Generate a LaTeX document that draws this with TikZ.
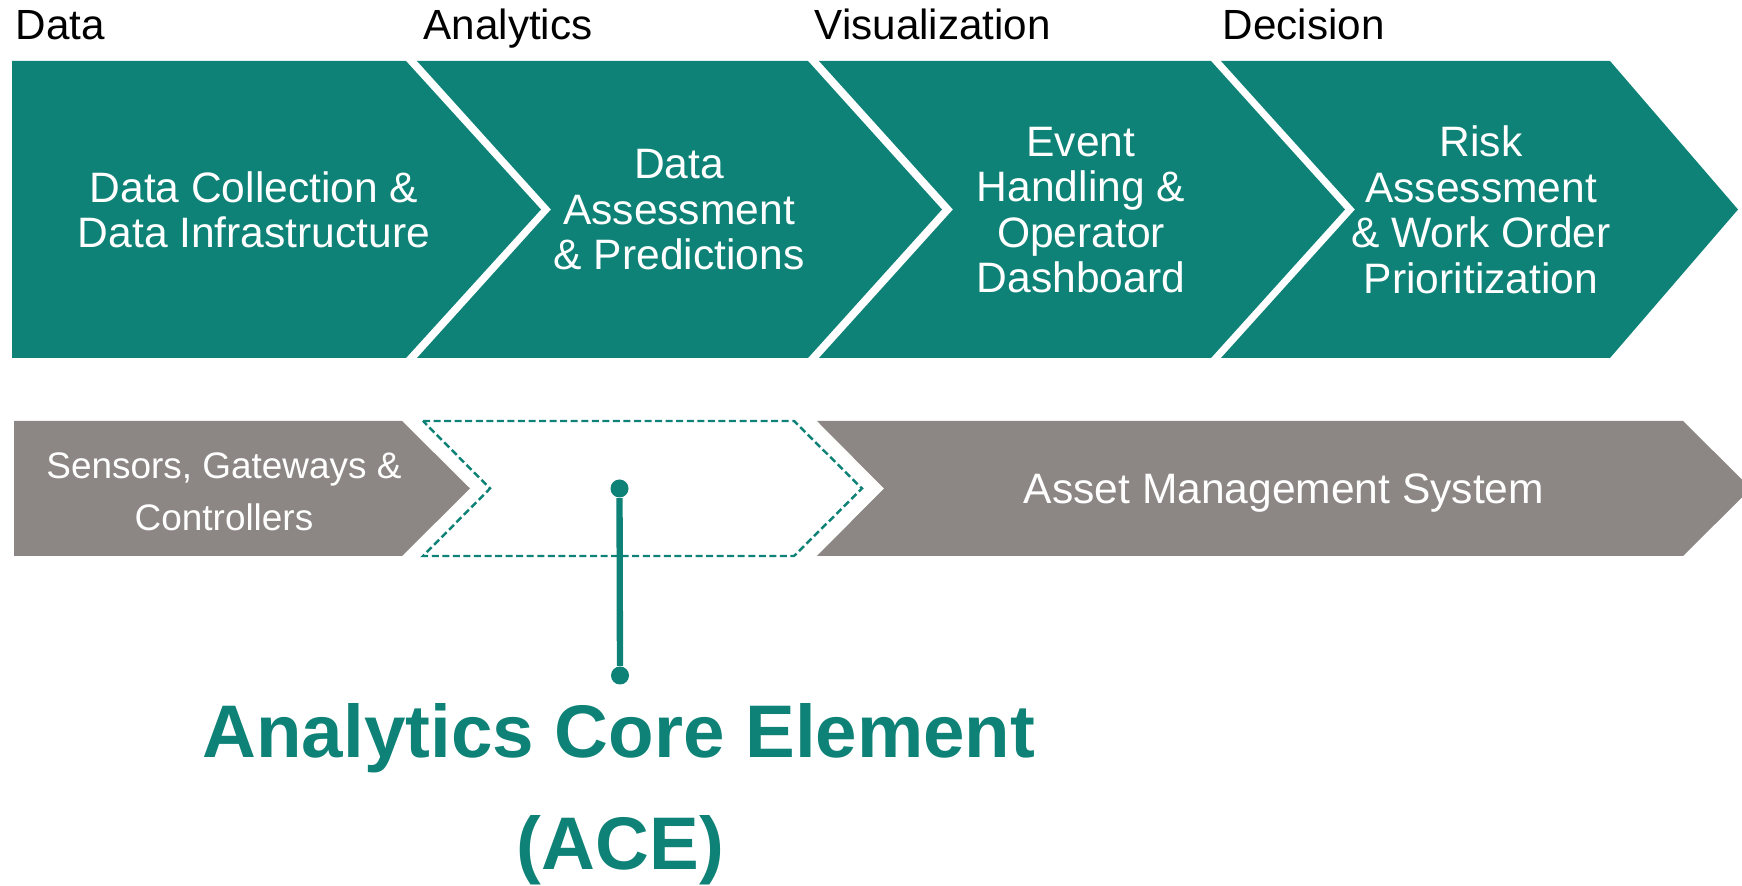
\documentclass[tikz,border=0pt]{standalone}
\usepackage{fontspec}
\setmainfont{Liberation Sans}
\usepackage{xcolor}
\usepackage{tikz}
\usetikzlibrary{positioning, arrows.meta}
\definecolor{aceteal}{HTML}{0E8276}
\definecolor{warmgray}{HTML}{8C8784}

\begin{document}
\begin{tikzpicture}[x=0.01cm, y=-0.01cm,
    stage/.style={fill=aceteal},
    system/.style={fill=warmgray},
    stagetext/.style={text=white, align=center, inner sep=0pt,
      font=\fontsize{12.1}{12.95}\selectfont},
    phase/.style={anchor=base west, inner sep=0pt,
      font=\fontsize{12}{14}\selectfont},
    pin/.style={circle, fill=aceteal, inner sep=0pt, minimum size=0.18cm}]
    \useasboundingbox (0,0) rectangle (1742,886);

    % process chain
    \fill[stage] (12,61) -- (406,61) -- (541,209.5) -- (406,358) -- (12,358) -- cycle;
    \fill[stage] (417,61) -- (808,61) -- (942,209.5) -- (808,358) -- (417,358) -- (551,209.5) -- cycle;
    \fill[stage] (819,61) -- (1211,61) -- (1345,209.5) -- (1211,358) -- (819,358) -- (953,209.5) -- cycle;
    \fill[stage] (1221,61) -- (1610,61) -- (1738,209.5) -- (1610,358) -- (1221,358) -- (1355,209.5) -- cycle;

    \node[phase] (phdata) at (15,40) {Data};
    \node[phase] (phanalytics) at (423,40) {Analytics};
    \node[phase] (phvisual) at (814,40) {Visualization};
    \node[phase] (phdecision) at (1222,40) {Decision};

    \node[stagetext] (collect) at (254,210) {Data Collection \&\\Data Infrastructure};
    \node[stagetext] (assess) at (679,210) {Data\\Assessment\\\& Predictions};
    \node[stagetext] (events) at (1081,210) {Event\\Handling \&\\Operator\\Dashboard};
    \node[stagetext] (risk) at (1481,210) {Risk\\Assessment\\\& Work Order\\Prioritization};

    % systems row
    \fill[system] (14,421) -- (402,421) -- (470,488.5) -- (402,556) -- (14,556) -- cycle;
    \draw[aceteal, line width=0.7pt, dash pattern=on 2pt off 1pt]
      (423,421) -- (794,421) -- (862,488.5) -- (794,556) -- (423,556) -- (490,488.5) -- cycle;
    \fill[system] (817,421) -- (1683,421) -- (1751,488.5) -- (1683,556) -- (817,556) -- (884,488.5) -- cycle;

    \node[text=white, align=center, inner sep=0pt,
          font=\fontsize{10.5}{14.8}\selectfont] (sensors) at (224,492) {Sensors, Gateways \&\\Controllers};
    \node[text=white, inner sep=0pt, font=\fontsize{12.1}{14}\selectfont] (ams) at (1284,493) {Asset Management System};

    % ACE pointer
    \node[pin] (pintop) at (619.5,488.5) {};
    \node[pin] (pinbot) at (620,675.5) {};
    \draw[aceteal, line width=1.8pt] (pintop) -- (pinbot);

    \node[anchor=base, inner sep=0pt, text=aceteal, font=\fontsize{21.2}{25}\selectfont\bfseries]
      (ace) at (619,758) {Analytics Core Element};
    \node[anchor=base, inner sep=0pt, text=aceteal, font=\fontsize{21.2}{25}\selectfont\bfseries]
      (aceabbr) at (620.5,870) {(ACE)};
\end{tikzpicture}
\end{document}
